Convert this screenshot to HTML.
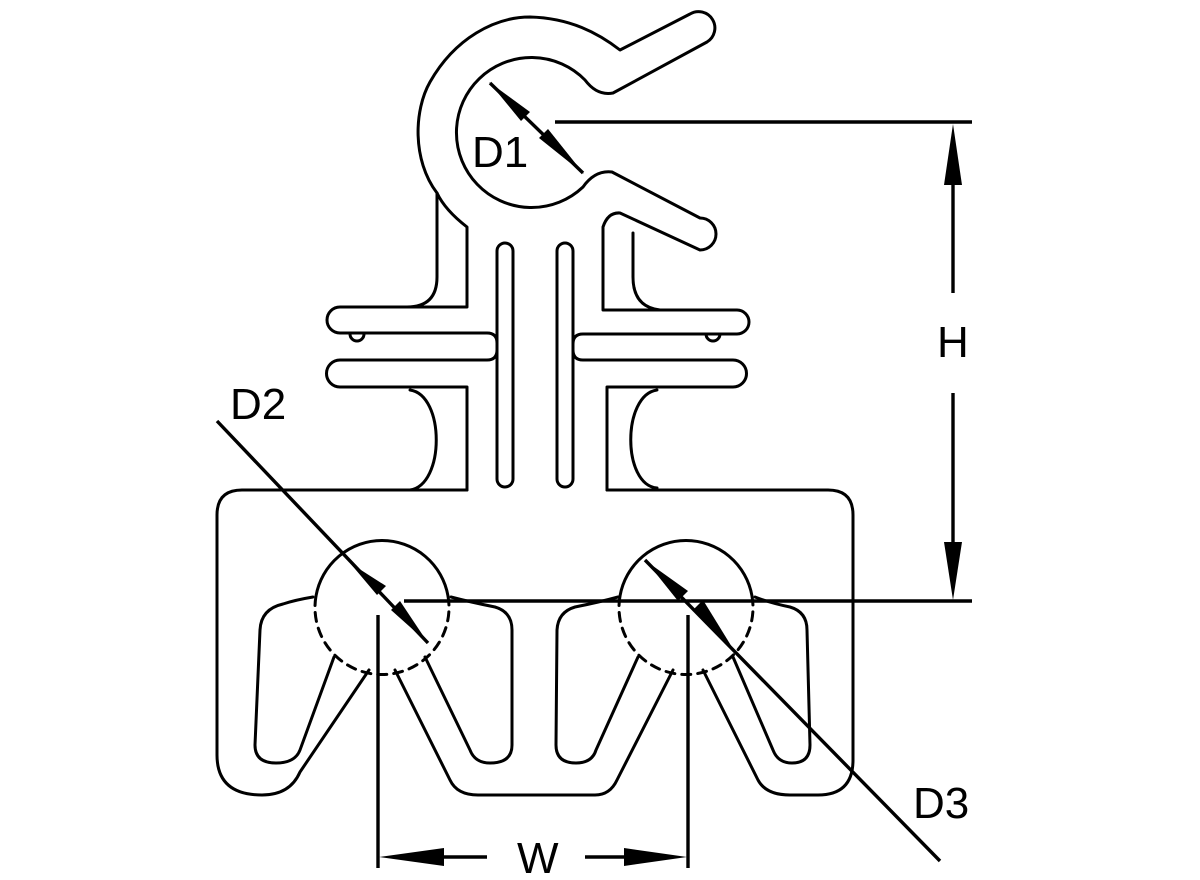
<!DOCTYPE html>
<html><head><meta charset="utf-8"><style>
html,body{margin:0;padding:0;background:#fff;}
svg{display:block;}
text{font-family:"Liberation Sans",sans-serif;font-size:44px;fill:#000;}
</style></head><body>
<svg width="1200" height="880" viewBox="0 0 1200 880" xmlns="http://www.w3.org/2000/svg">
<g fill="none" stroke="#000" stroke-width="3" stroke-linecap="round" stroke-linejoin="round">
<!-- hook ring -->
<path d="M467,300 L467,227 Q445,210 437,193 C412,160 414,110 430,82 C455,38 495,17 530,17 C570,18 598,33 620,50 L690,14 A15,15 0 0 1 707,42 L613,93 Q597,96 585,80 A75,75 0 1 0 583,187 Q595,170 612,172 L700,218 A16,16 0 0 1 700,250 L620,213 Q608,212 603,227 L603,303"/>
<!-- left leg -->
<path d="M437,193 L437,277 Q437,307 407,307"/>
<!-- left flange 1 -->
<path d="M467,300 L467,307 L340,307 A13,13 0 0 0 340,333 L487,333 Q497,333 497,343"/>
<!-- left flange 2 -->
<path d="M497,350 Q497,360 487,360 L340,360 A13,13 0 0 0 340,387 L467,387 L467,490"/>
<path d="M410,390 C445,395 445,485 410,490"/>
<!-- nubs -->
<path d="M350,334 A7,7 0 0 0 364,334"/>
<path d="M706,334 A7,7 0 0 0 720,334"/>
<!-- right leg -->
<path d="M633,233 L633,277 Q633,307 660,310"/>
<!-- right flange 1 -->
<path d="M603,303 L603,310 L737,310 A12,12 0 0 1 737,334 L583,334 Q573,334 573,344"/>
<!-- right flange 2 -->
<path d="M573,350 Q573,360 583,360 L733,360 A13,13 0 0 1 733,387 L607,387 L607,490"/>
<path d="M657,390 C622,395 622,485 657,488"/>
<!-- slots in stem -->
<rect x="497" y="243" width="16" height="244" rx="8"/>
<rect x="557" y="243" width="16" height="244" rx="8"/>
<!-- base outline -->
<path d="M467,490 L242,490 Q217,490 217,515 L217,755 Q217,795 262,795 Q290,795 300,772 L369,670"/>
<path d="M395,670 L450,780 Q457,795 478,795 L595,795 Q610,795 617,780 L673,670"/>
<path d="M703,670 L758,780 Q766,795 790,795 L818,795 Q853,795 853,760 L853,515 Q853,490 828,490 L607,490"/>
<!-- circles -->
<path d="M316,596 A67,67 0 0 1 448,596"/>
<path d="M620,596 A67,67 0 0 1 752,596"/>
<path d="M448,596 A67,67 0 1 1 316,596" stroke-dasharray="9,7"/>
<path d="M752,596 A67,67 0 1 1 620,596" stroke-dasharray="9,7"/>
<!-- base slots -->
<path d="M313,597 Q295,600 283,604 Q261,609 260,630 L255,745 Q255,763 276,763 Q295,763 300,750 L334,657"/>
<path d="M451,597 Q470,602 495,607 Q512,612 512,630 L512,745 Q512,763 490,763 Q475,763 470,750 L425,657"/>
<path d="M618,597 Q600,602 575,607 Q558,612 557,630 L556,745 Q556,763 576,763 Q592,763 596,750 L638,657"/>
<path d="M755,597 Q770,603 790,607 Q807,612 807,630 L810,745 Q810,763 792,763 Q778,763 773,750 L733,657"/>
</g>
<!-- dimension lines -->
<g stroke="#000" stroke-width="3.4" fill="none">
<line x1="555" y1="122" x2="972" y2="122"/>
<line x1="404" y1="601" x2="972" y2="601"/>
<line x1="953" y1="180" x2="953" y2="293"/>
<line x1="953" y1="393" x2="953" y2="545"/>
<line x1="378" y1="615" x2="378" y2="868"/>
<line x1="688" y1="615" x2="688" y2="868"/>
<line x1="440" y1="857" x2="487" y2="857"/>
<line x1="585" y1="857" x2="628" y2="857"/>
<line x1="217" y1="421" x2="428" y2="643"/>
<line x1="645" y1="560" x2="940" y2="861"/>
<line x1="490" y1="83" x2="583" y2="173"/>
</g>
<g fill="#000">
<polygon points="953,124 944,185 962,185"/>
<polygon points="953,600 944,542 962,542"/>
<polygon points="379,857 444,848 444,866"/>
<polygon points="687,857 624,848 624,866"/>
<polygon points="350,563 386,586 377,595"/>
<polygon points="428,643 391,610 400,601"/>
<polygon points="646,561 688,591 678,601"/>
<polygon points="735,652 693,610 703,600"/>
<polygon points="489,82 530,112 521,121"/>
<polygon points="584,174 539,138 548,129"/>
</g>
<text x="472" y="167">D1</text>
<text x="937" y="357">H</text>
<text x="230" y="419">D2</text>
<text x="913" y="818">D3</text>
<text x="517" y="873">W</text>
</svg>
</body></html>
